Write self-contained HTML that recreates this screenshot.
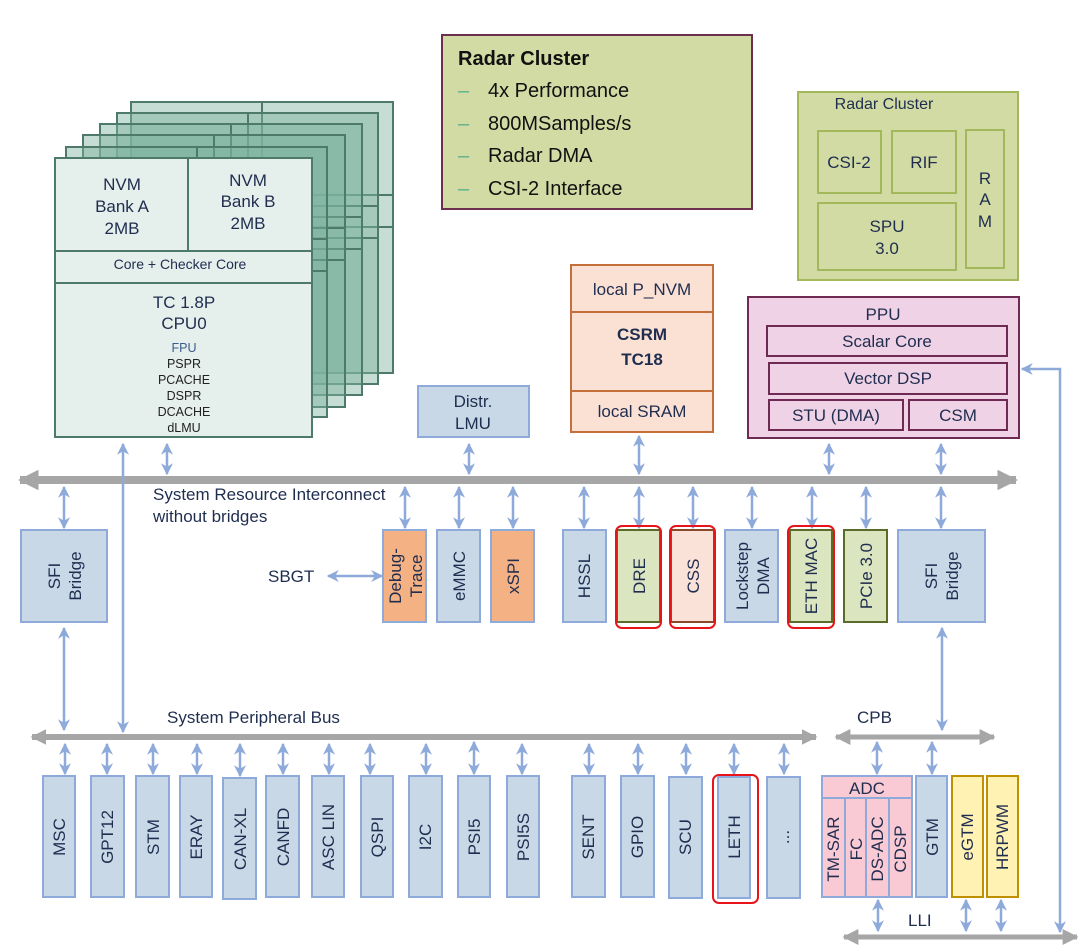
<!DOCTYPE html>
<html><head><meta charset="utf-8"><style>
html,body{margin:0;padding:0;background:#fff;}
svg{display:block;font-family:"Liberation Sans",sans-serif;}
</style></head><body>
<svg width="1080" height="948" viewBox="0 0 1080 948" xmlns="http://www.w3.org/2000/svg">
<defs>
<marker id="a" viewBox="0 0 10 10" refX="9" refY="5" markerWidth="4.8" markerHeight="4.8" orient="auto-start-reverse"><path d="M0,0 L10,5 L0,10 L3,5 z" fill="#8eaadb"/></marker>
<marker id="g" viewBox="0 0 10 10" refX="9" refY="5" markerWidth="2.6" markerHeight="2.6" orient="auto-start-reverse"><path d="M0,0 L10,5 L0,10 z" fill="#a6a6a6"/></marker>
<marker id="g2" viewBox="0 0 10 10" refX="9" refY="5" markerWidth="3.2" markerHeight="3.2" orient="auto-start-reverse"><path d="M0,0 L10,5 L0,10 z" fill="#a6a6a6"/></marker>
</defs>

<!-- CPU stack layers -->
<g stroke="#4d7a6a" stroke-width="2" fill="#7fb3a0" fill-opacity="0.45">
<rect x="131" y="102" width="262" height="271"/><line x1="131" y1="195" x2="393" y2="195"/><line x1="131" y1="227" x2="393" y2="227"/><line x1="262" y1="102" x2="262" y2="195"/>
<rect x="117" y="113" width="261" height="271"/><line x1="117" y1="206" x2="378" y2="206"/><line x1="117" y1="238" x2="378" y2="238"/><line x1="248" y1="113" x2="248" y2="206"/>
<rect x="100" y="124" width="262" height="271"/><line x1="100" y1="217" x2="362" y2="217"/><line x1="100" y1="249" x2="362" y2="249"/><line x1="231" y1="124" x2="231" y2="217"/>
<rect x="83" y="135" width="262" height="272"/><line x1="83" y1="228" x2="345" y2="228"/><line x1="83" y1="260" x2="345" y2="260"/><line x1="214" y1="135" x2="214" y2="228"/>
<rect x="66" y="147" width="261" height="270"/><line x1="66" y1="239" x2="327" y2="239"/><line x1="66" y1="271" x2="327" y2="271"/><line x1="197" y1="147" x2="197" y2="239"/>
</g>
<g stroke="#4d7a6a" stroke-width="2" fill="#e5efec">
<rect x="55" y="158" width="257" height="279"/>
<line x1="55" y1="251" x2="312" y2="251"/><line x1="55" y1="283" x2="312" y2="283"/><line x1="188" y1="158" x2="188" y2="251"/>
</g>
<g fill="#1f2d4f" text-anchor="middle" font-size="17">
<text x="122" y="190">NVM</text><text x="122" y="212">Bank A</text><text x="122" y="234">2MB</text>
<text x="248" y="186">NVM</text><text x="248" y="207">Bank B</text><text x="248" y="229">2MB</text>
<text x="180" y="269" font-size="14">Core + Checker Core</text>
<text x="184" y="308">TC 1.8P</text><text x="184" y="329">CPU0</text>
<g font-size="12.5" fill="#222"><text x="184" y="352" fill="#3c5a8a">FPU</text><text x="184" y="368">PSPR</text><text x="184" y="384">PCACHE</text><text x="184" y="400">DSPR</text><text x="184" y="416">DCACHE</text><text x="184" y="432">dLMU</text></g>
</g>

<!-- Radar cluster text box -->
<rect x="442" y="35" width="310" height="174" fill="#d2dba4" stroke="#6e2f4f" stroke-width="2"/>
<text x="458" y="65" font-size="20" font-weight="bold" fill="#111">Radar Cluster</text>
<g font-size="20" fill="#111">
<text x="458" y="97" fill="#5ab08a">–</text><text x="488" y="97">4x Performance</text>
<text x="458" y="130" fill="#5ab08a">–</text><text x="488" y="130">800MSamples/s</text>
<text x="458" y="162" fill="#5ab08a">–</text><text x="488" y="162">Radar DMA</text>
<text x="458" y="195" fill="#5ab08a">–</text><text x="488" y="195">CSI-2 Interface</text>
</g>

<!-- Radar cluster block -->
<g fill="#d2dba4" stroke="#a3b85a" stroke-width="2">
<rect x="798" y="92" width="220" height="188"/>
<rect x="818" y="131" width="63" height="62"/><rect x="892" y="131" width="64" height="62"/>
<rect x="966" y="130" width="38" height="138"/><rect x="818" y="203" width="138" height="67"/>
</g>
<g fill="#1f2d4f" font-size="17" text-anchor="middle">
<text x="884" y="109" font-size="16">Radar Cluster</text>
<text x="849" y="168">CSI-2</text><text x="924" y="168">RIF</text>
<text x="985" y="184">R</text><text x="985" y="205">A</text><text x="985" y="227">M</text>
<text x="887" y="232">SPU</text><text x="887" y="254">3.0</text>
</g>

<!-- CSRM -->
<g fill="#fbe0d4" stroke="#c5703a" stroke-width="2">
<rect x="571" y="265" width="142" height="167"/>
<line x1="571" y1="312" x2="713" y2="312"/><line x1="571" y1="391" x2="713" y2="391"/>
</g>
<g fill="#1f2d4f" font-size="17" text-anchor="middle">
<text x="642" y="295">local P_NVM</text>
<text x="642" y="340" font-weight="bold">CSRM</text><text x="642" y="365" font-weight="bold">TC18</text>
<text x="642" y="417">local SRAM</text>
</g>

<!-- Distr LMU -->
<rect x="418" y="386" width="111" height="51" fill="#c9d8e7" stroke="#8eaadb" stroke-width="2"/>
<text x="473" y="407" font-size="17" fill="#1f2d4f" text-anchor="middle">Distr.</text>
<text x="473" y="429" font-size="17" fill="#1f2d4f" text-anchor="middle">LMU</text>

<!-- PPU -->
<g fill="#f0d2e6" stroke="#6e2a52" stroke-width="2">
<rect x="748" y="297" width="271" height="141"/>
<rect x="767" y="326" width="240" height="30"/><rect x="769" y="363" width="238" height="31"/>
<rect x="769" y="400" width="134" height="30"/><rect x="909" y="400" width="98" height="30"/>
</g>
<g fill="#1f2d4f" font-size="17" text-anchor="middle">
<text x="883" y="320">PPU</text><text x="887" y="347">Scalar Core</text><text x="888" y="384">Vector DSP</text>
<text x="836" y="421">STU (DMA)</text><text x="958" y="421">CSM</text>
</g>

<!-- buses -->
<g stroke="#a6a6a6" stroke-width="8" fill="none">
<line x1="20" y1="480" x2="1016" y2="480" marker-start="url(#g)" marker-end="url(#g)"/>
<line x1="32" y1="737" x2="816" y2="737" marker-start="url(#g)" marker-end="url(#g)" stroke-width="6"/>
<line x1="836" y1="737" x2="994" y2="737" marker-start="url(#g2)" marker-end="url(#g2)" stroke-width="5"/>
<line x1="844" y1="937" x2="1077" y2="937" marker-start="url(#g2)" marker-end="url(#g2)" stroke-width="5"/>
</g>
<g fill="#1f2d4f" font-size="17">
<text x="153" y="500">System Resource Interconnect</text><text x="153" y="522">without bridges</text>
<text x="167" y="723">System Peripheral Bus</text>
<text x="857" y="723">CPB</text>
<text x="908" y="926">LLI</text>
<text x="268" y="582">SBGT</text>
</g>

<!-- arrows -->
<g stroke="#8eaadb" stroke-width="2.5" fill="none">
<line x1="167" y1="444" x2="167" y2="474" marker-start="url(#a)" marker-end="url(#a)"/>
<line x1="469" y1="444" x2="469" y2="474" marker-start="url(#a)" marker-end="url(#a)"/>
<line x1="639" y1="436" x2="639" y2="474" marker-start="url(#a)" marker-end="url(#a)"/>
<line x1="829" y1="444" x2="829" y2="474" marker-start="url(#a)" marker-end="url(#a)"/>
<line x1="941" y1="444" x2="941" y2="474" marker-start="url(#a)" marker-end="url(#a)"/>
<line x1="123" y1="444" x2="123" y2="732" marker-start="url(#a)" marker-end="url(#a)"/>
<line x1="64" y1="487" x2="64" y2="528" marker-start="url(#a)" marker-end="url(#a)"/>
<line x1="405" y1="487" x2="405" y2="528" marker-start="url(#a)" marker-end="url(#a)"/>
<line x1="459" y1="487" x2="459" y2="528" marker-start="url(#a)" marker-end="url(#a)"/>
<line x1="513" y1="487" x2="513" y2="528" marker-start="url(#a)" marker-end="url(#a)"/>
<line x1="584" y1="487" x2="584" y2="528" marker-start="url(#a)" marker-end="url(#a)"/>
<line x1="639" y1="487" x2="639" y2="528" marker-start="url(#a)" marker-end="url(#a)"/>
<line x1="693" y1="487" x2="693" y2="528" marker-start="url(#a)" marker-end="url(#a)"/>
<line x1="752" y1="487" x2="752" y2="528" marker-start="url(#a)" marker-end="url(#a)"/>
<line x1="812" y1="487" x2="812" y2="528" marker-start="url(#a)" marker-end="url(#a)"/>
<line x1="866" y1="487" x2="866" y2="528" marker-start="url(#a)" marker-end="url(#a)"/>
<line x1="941" y1="487" x2="941" y2="528" marker-start="url(#a)" marker-end="url(#a)"/>
<line x1="328" y1="576" x2="382" y2="576" marker-start="url(#a)" marker-end="url(#a)"/>
<line x1="64" y1="628" x2="64" y2="730" marker-start="url(#a)" marker-end="url(#a)"/>
<line x1="942" y1="628" x2="942" y2="730" marker-start="url(#a)" marker-end="url(#a)"/>
<line x1="65" y1="744" x2="65" y2="774" marker-start="url(#a)" marker-end="url(#a)"/>
<line x1="107" y1="744" x2="107" y2="774" marker-start="url(#a)" marker-end="url(#a)"/>
<line x1="153" y1="744" x2="153" y2="774" marker-start="url(#a)" marker-end="url(#a)"/>
<line x1="197" y1="744" x2="197" y2="774" marker-start="url(#a)" marker-end="url(#a)"/>
<line x1="240" y1="744" x2="240" y2="776" marker-start="url(#a)" marker-end="url(#a)"/>
<line x1="283" y1="744" x2="283" y2="774" marker-start="url(#a)" marker-end="url(#a)"/>
<line x1="329" y1="744" x2="329" y2="774" marker-start="url(#a)" marker-end="url(#a)"/>
<line x1="370" y1="744" x2="370" y2="774" marker-start="url(#a)" marker-end="url(#a)"/>
<line x1="426" y1="744" x2="426" y2="774" marker-start="url(#a)" marker-end="url(#a)"/>
<line x1="474" y1="742" x2="474" y2="774" marker-start="url(#a)" marker-end="url(#a)"/>
<line x1="522" y1="744" x2="522" y2="774" marker-start="url(#a)" marker-end="url(#a)"/>
<line x1="589" y1="744" x2="589" y2="774" marker-start="url(#a)" marker-end="url(#a)"/>
<line x1="638" y1="744" x2="638" y2="774" marker-start="url(#a)" marker-end="url(#a)"/>
<line x1="686" y1="744" x2="686" y2="774" marker-start="url(#a)" marker-end="url(#a)"/>
<line x1="734" y1="744" x2="734" y2="774" marker-start="url(#a)" marker-end="url(#a)"/>
<line x1="784" y1="744" x2="784" y2="774" marker-start="url(#a)" marker-end="url(#a)"/>
<line x1="877" y1="742" x2="877" y2="774" marker-start="url(#a)" marker-end="url(#a)"/>
<line x1="932" y1="742" x2="932" y2="774" marker-start="url(#a)" marker-end="url(#a)"/>
<line x1="878" y1="900" x2="878" y2="931" marker-start="url(#a)" marker-end="url(#a)"/>
<line x1="966" y1="900" x2="966" y2="931" marker-start="url(#a)" marker-end="url(#a)"/>
<line x1="1001" y1="900" x2="1001" y2="931" marker-start="url(#a)" marker-end="url(#a)"/>
<polyline points="1060,932 1060,369 1022,369" marker-start="url(#a)" marker-end="url(#a)"/>
</g>

<!-- SRI boxes -->
<g stroke-width="2">
<rect x="21" y="530" width="86" height="92" fill="#c9d8e7" stroke="#8eaadb"/>
<rect x="383" y="530" width="43" height="92" fill="#f4b183" stroke="#8eaadb"/>
<rect x="437" y="530" width="43" height="92" fill="#c9d8e7" stroke="#8eaadb"/>
<rect x="491" y="530" width="43" height="92" fill="#f4b183" stroke="#8eaadb"/>
<rect x="563" y="530" width="43" height="92" fill="#c9d8e7" stroke="#8eaadb"/>
<rect x="617" y="530" width="43" height="92" fill="#dbe5c0" stroke="#5a6b2a"/>
<rect x="671" y="530" width="43" height="92" fill="#fbe2d8" stroke="#8a4a2a"/>
<rect x="725" y="530" width="53" height="92" fill="#c9d8e7" stroke="#8eaadb"/>
<rect x="790" y="530" width="42" height="92" fill="#dbe5c0" stroke="#5a6b2a"/>
<rect x="844" y="530" width="43" height="92" fill="#dbe5c0" stroke="#5a6b2a"/>
<rect x="898" y="530" width="87" height="92" fill="#c9d8e7" stroke="#8eaadb"/>
</g>
<g fill="none" stroke="#e8141a" stroke-width="2">
<rect x="616" y="526" width="45" height="102" rx="6"/>
<rect x="670" y="526" width="45" height="102" rx="6"/>
<rect x="788" y="526" width="46" height="102" rx="6"/>
<rect x="713" y="775" width="45" height="128" rx="6"/>
</g>
<g fill="#1f2d4f" font-size="17" text-anchor="middle">
<text transform="translate(64,576) rotate(-90)"><tspan x="0" y="-4">SFI</tspan><tspan x="0" y="17">Bridge</tspan></text>
<text transform="translate(405,576) rotate(-90)"><tspan x="0" y="-4">Debug-</tspan><tspan x="0" y="17">Trace</tspan></text>
<text transform="translate(459,576) rotate(-90)"><tspan x="0" y="6">eMMC</tspan></text>
<text transform="translate(513,576) rotate(-90)"><tspan x="0" y="6">xSPI</tspan></text>
<text transform="translate(584,576) rotate(-90)"><tspan x="0" y="6">HSSL</tspan></text>
<text transform="translate(639,576) rotate(-90)"><tspan x="0" y="6">DRE</tspan></text>
<text transform="translate(693,576) rotate(-90)"><tspan x="0" y="6">CSS</tspan></text>
<text transform="translate(752,576) rotate(-90)"><tspan x="0" y="-4">Lockstep</tspan><tspan x="0" y="17">DMA</tspan></text>
<text transform="translate(811,576) rotate(-90)"><tspan x="0" y="6">ETH MAC</tspan></text>
<text transform="translate(866,576) rotate(-90)"><tspan x="0" y="6">PCIe 3.0</tspan></text>
<text transform="translate(941,576) rotate(-90)"><tspan x="0" y="-4">SFI</tspan><tspan x="0" y="17">Bridge</tspan></text>
</g>

<!-- peripheral boxes -->
<g fill="#c9d8e7" stroke="#8eaadb" stroke-width="2">
<rect x="43" y="776" width="32" height="121"/><rect x="91" y="776" width="33" height="121"/>
<rect x="136" y="776" width="33" height="121"/><rect x="180" y="776" width="32" height="121"/>
<rect x="223" y="778" width="33" height="121"/><rect x="266" y="776" width="33" height="121"/>
<rect x="312" y="776" width="32" height="121"/><rect x="361" y="776" width="32" height="121"/>
<rect x="409" y="776" width="33" height="121"/><rect x="458" y="776" width="32" height="121"/>
<rect x="507" y="776" width="32" height="121"/><rect x="572" y="776" width="33" height="121"/>
<rect x="621" y="776" width="33" height="121"/><rect x="669" y="777" width="33" height="121"/>
<rect x="718" y="777" width="32" height="121"/><rect x="767" y="777" width="33" height="121"/>
<rect x="916" y="776" width="31" height="121"/>
</g>
<g fill="#fff2b3" stroke="#bf9000" stroke-width="2">
<rect x="952" y="776" width="31" height="121"/><rect x="987" y="776" width="31" height="121"/>
</g>
<g fill="#f9c9d4" stroke="#8eaadb" stroke-width="2">
<rect x="822" y="776" width="90" height="121"/>
<line x1="822" y1="798" x2="912" y2="798"/>
<line x1="845" y1="798" x2="845" y2="897"/><line x1="866" y1="798" x2="866" y2="897"/><line x1="889" y1="798" x2="889" y2="897"/>
</g>
<g fill="#1f2d4f" font-size="17" text-anchor="middle">
<text x="867" y="794">ADC</text>
<text transform="translate(59,837) rotate(-90)" y="6">MSC</text>
<text transform="translate(107,837) rotate(-90)" y="6">GPT12</text>
<text transform="translate(153,837) rotate(-90)" y="6">STM</text>
<text transform="translate(196,837) rotate(-90)" y="6">ERAY</text>
<text transform="translate(240,839) rotate(-90)" y="6">CAN-XL</text>
<text transform="translate(283,837) rotate(-90)" y="6">CANFD</text>
<text transform="translate(328,837) rotate(-90)" y="6">ASC LIN</text>
<text transform="translate(377,837) rotate(-90)" y="6">QSPI</text>
<text transform="translate(425,837) rotate(-90)" y="6">I2C</text>
<text transform="translate(474,837) rotate(-90)" y="6">PSI5</text>
<text transform="translate(523,837) rotate(-90)" y="6">PSI5S</text>
<text transform="translate(588,837) rotate(-90)" y="6">SENT</text>
<text transform="translate(637,837) rotate(-90)" y="6">GPIO</text>
<text transform="translate(685,837) rotate(-90)" y="6">SCU</text>
<text transform="translate(734,837) rotate(-90)" y="6">LETH</text>
<text transform="translate(783,837) rotate(-90)" y="6">...</text>
<text transform="translate(833,849) rotate(-90)" y="6">TM-SAR</text>
<text transform="translate(856,849) rotate(-90)" y="6">FC</text>
<text transform="translate(877,849) rotate(-90)" y="6">DS-ADC</text>
<text transform="translate(900,849) rotate(-90)" y="6">CDSP</text>
<text transform="translate(932,837) rotate(-90)" y="6">GTM</text>
<text transform="translate(967,837) rotate(-90)" y="6">eGTM</text>
<text transform="translate(1002,837) rotate(-90)" y="6">HRPWM</text>
</g>
</svg>
</body></html>
